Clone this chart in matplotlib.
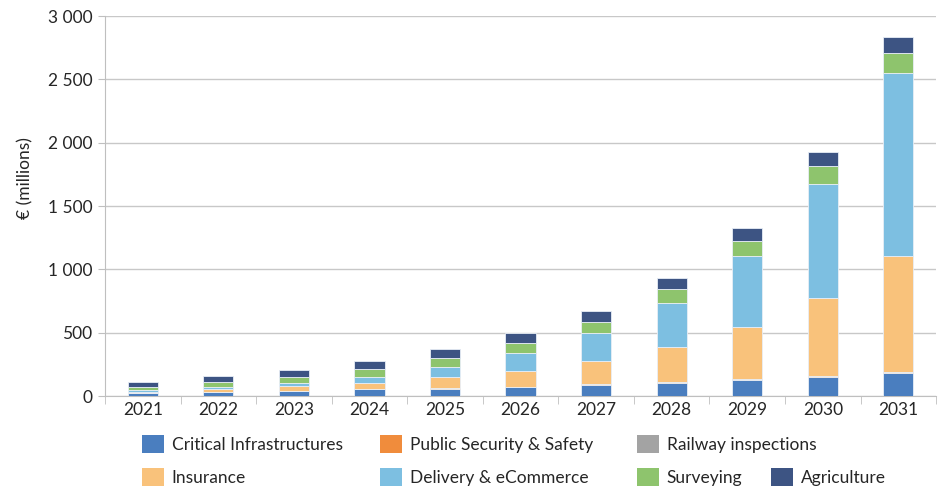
import numpy as np
import matplotlib
matplotlib.use("Agg")
import matplotlib.pyplot as plt
from matplotlib.patches import Patch
from matplotlib.ticker import FuncFormatter, MultipleLocator

plt.rcParams['font.family'] = ['Lato', 'DejaVu Sans']

years = ['2021', '2022', '2023', '2024', '2025', '2026', '2027', '2028', '2029', '2030', '2031']

# € millions per segment
critical = [20, 33, 41, 52, 59, 73, 90, 105, 126, 152, 180]
public_security = [1, 1, 1, 1, 1, 1, 2, 3, 4, 6, 6]
railway = [0, 0, 0, 0, 0, 0, 1, 1, 1, 1, 2]
insurance = [13, 21, 34, 50, 88, 126, 184, 276, 414, 612, 917]
delivery = [13, 16, 27, 50, 84, 137, 219, 350, 560, 900, 1442]
surveying = [27, 39, 47, 58, 71, 81, 92, 108, 121, 142, 163]
agriculture = [36, 48, 55, 65, 68, 77, 84, 92, 100, 111, 127]

series = [
    ("Critical Infrastructures", critical, "#4a7ebf"),
    ("Public Security & Safety", public_security, "#f08c3c"),
    ("Railway inspections", railway, "#a3a3a3"),
    ("Insurance", insurance, "#f9c27b"),
    ("Delivery & eCommerce", delivery, "#7dbfe1"),
    ("Surveying", surveying, "#8ec46d"),
    ("Agriculture", agriculture, "#3d5483"),
]

fs = 12.5
fig = plt.figure(figsize=(9.38, 4.88), dpi=100)
ax = fig.add_axes([0.112, 0.1885, 0.886, 0.7785])

x = np.arange(len(years))
bottom = np.zeros(len(years))
handles = []
for name, vals, col in series:
    ax.bar(x, vals, 0.4, bottom=bottom, color=col, edgecolor='#e8eef6', linewidth=0.6, zorder=3)
    bottom += np.array(vals)
    handles.append(Patch(facecolor=col, label=name))

ax.set_xlim(-0.5, len(years) - 0.5)
ax.set_ylim(0, 3000)
ax.yaxis.set_major_locator(MultipleLocator(500))
ax.yaxis.set_major_formatter(FuncFormatter(lambda v, p: f"{int(v):,}".replace(",", " ")))
ax.set_xticks(x)
ax.set_xticklabels(years)
ax.set_xticks(np.arange(len(years) + 1) - 0.5, minor=True)
ax.tick_params(axis='x', which='major', length=0, labelsize=fs, pad=4, colors='#262626')
ax.tick_params(axis='x', which='minor', length=6, color='#bfbfbf')
ax.tick_params(axis='y', length=5, color='#bfbfbf', labelsize=fs, labelcolor='#262626', pad=4)

ax.grid(axis='y', color='#c8c8c8', linewidth=1, zorder=0)
for s in ['top', 'right']:
    ax.spines[s].set_visible(False)
for s in ['left', 'bottom']:
    ax.spines[s].set_color('#bfbfbf')

ax.set_ylabel("€ (millions)", fontsize=fs, color='#262626')
ax.yaxis.set_label_coords(-0.086, 0.575)

# legend laid out like the original (3 items, then 4)
W, H = 938.0, 488.0
leg_pos = [(142, 444), (380, 444), (637, 444), (142, 477), (380, 477), (637, 477), (771, 477)]
for h, (px, py) in zip(handles, leg_pos):
    fig.legend(handles=[h], loc='center left', bbox_to_anchor=(px / W, 1 - py / H),
               frameon=False, fontsize=fs, handlelength=1.27, handleheight=1.27,
               handletextpad=0.45, borderpad=0, borderaxespad=0, labelcolor='#262626')

fig.savefig("out.png", dpi=100)
